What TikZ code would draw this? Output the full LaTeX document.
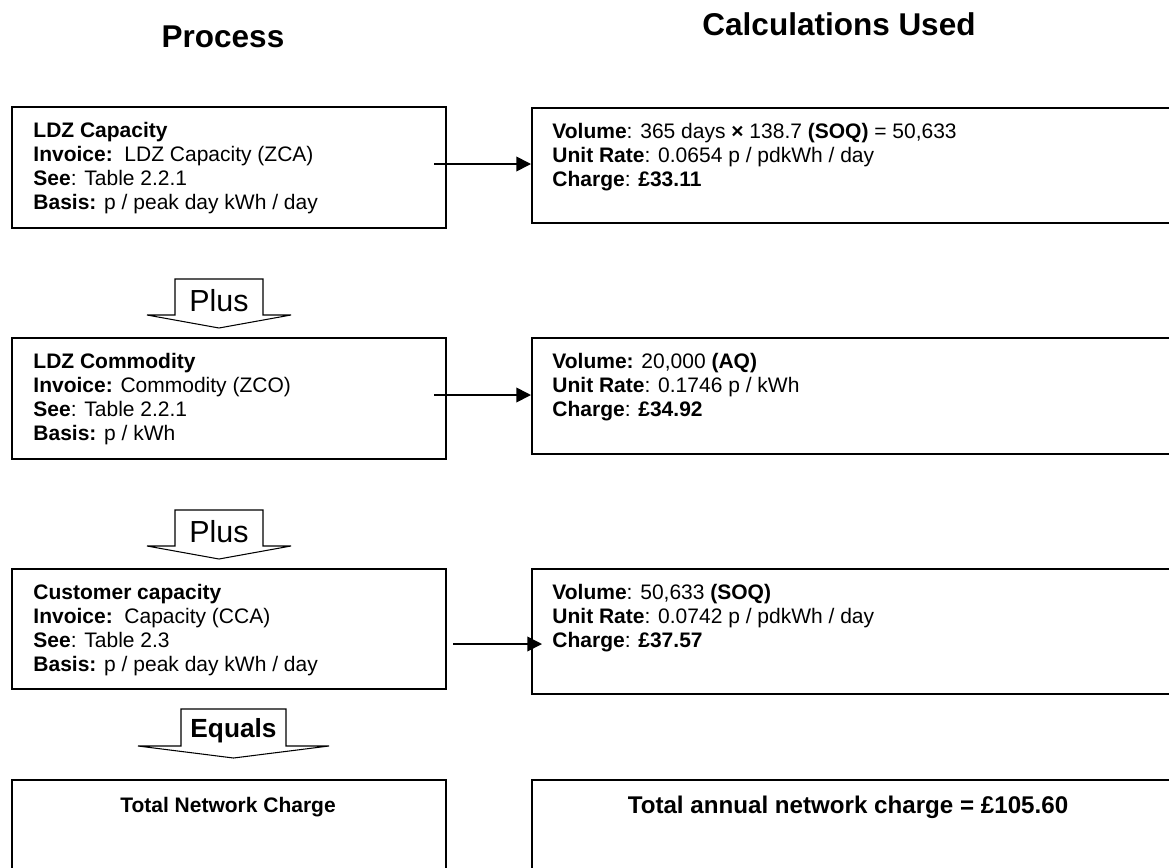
\documentclass[tikz,border=0pt]{standalone}
\usepackage{fontspec}
\setmainfont{Liberation Sans}
\usetikzlibrary{arrows.meta}
\newcommand\pxu{0.47619pt}
\begin{document}
\begin{tikzpicture}[x=0.47619pt,y=-0.47619pt,
  box/.style={draw=black, line width=0.8pt, fill=none, inner sep=0pt, anchor=north west},
  txt/.style={anchor=base west, inner sep=0pt, font=\fontsize{10}{12}\selectfont},
  title/.style={anchor=base, inner sep=0pt, font=\fontsize{15}{18}\selectfont\bfseries},
  conn/.style={line width=0.8pt, -{Triangle[length=7pt,width=7pt]}},
  blk/.style={draw=black, line width=0.5pt, line join=miter},
  blktxt/.style={anchor=base, inner sep=0pt, font=\fontsize{14.5}{17}\selectfont}]
\useasboundingbox (0,0) rectangle (1169,867);
\clip (0,0) rectangle (1169,867);

% titles
\node[title] (tproc) at (223,47) {Process};
\node[title] (tcalc) at (839,35) {Calculations Used};

% row 1
\node[box, minimum width=434*\pxu, minimum height=121*\pxu] (l1) at (11,106) {};
\node[box, minimum width=700*\pxu, minimum height=115*\pxu] (r1) at (531,107) {};
\node[txt] (l1a) at (33,137.5) {\textbf{LDZ Capacity}};
\node[txt] (l1b) at (33,161.5) {\textbf{Invoice:}\ \ LDZ Capacity (ZCA)};
\node[txt] (l1c) at (33,185.5) {\textbf{See}: Table 2.2.1};
\node[txt] (l1d) at (33,209.5) {\textbf{Basis:} p / peak day kWh / day};
\node[txt] (r1a) at (552,138.5) {\textbf{Volume}: 365 days \textbf{×} 138.7 \textbf{(SOQ)} = 50,633};
\node[txt] (r1b) at (552,162.5) {\textbf{Unit Rate}: 0.0654 p / pdkWh / day};
\node[txt] (r1c) at (552,186.5) {\textbf{Charge}: \textbf{£33.11}};
\coordinate (s1) at (434,164);
\draw[conn] (s1) -- (s1 -| r1.west);

% plus 1
\draw[blk] (175,279) -- (263,279) -- (263,315) -- (291,315) -- (219,328) -- (147,315) -- (175,315) -- cycle;
\node[blktxt] (p1) at (219,311) {Plus};

% row 2
\node[box, minimum width=434*\pxu, minimum height=121*\pxu] (l2) at (11,337) {};
\node[box, minimum width=700*\pxu, minimum height=116*\pxu] (r2) at (531,337) {};
\node[txt] (l2a) at (33,368.5) {\textbf{LDZ Commodity}};
\node[txt] (l2b) at (33,392.5) {\textbf{Invoice:} Commodity (ZCO)};
\node[txt] (l2c) at (33,416.5) {\textbf{See}: Table 2.2.1};
\node[txt] (l2d) at (33,440.5) {\textbf{Basis:} p / kWh};
\node[txt] (r2a) at (552,368.5) {\textbf{Volume:} 20,000 \textbf{(AQ)}};
\node[txt] (r2b) at (552,392.5) {\textbf{Unit Rate}: 0.1746 p / kWh};
\node[txt] (r2c) at (552,416.5) {\textbf{Charge}: \textbf{£34.92}};
\coordinate (s2) at (434,395);
\draw[conn] (s2) -- (s2 -| r2.west);

% plus 2
\draw[blk] (175,510) -- (263,510) -- (263,546) -- (291,546) -- (219,559) -- (147,546) -- (175,546) -- cycle;
\node[blktxt] (p2) at (219,542) {Plus};

% row 3
\node[box, minimum width=434*\pxu, minimum height=120*\pxu] (l3) at (11,568) {};
\node[box, minimum width=700*\pxu, minimum height=125*\pxu] (r3) at (531,568) {};
\node[txt] (l3a) at (33,599.5) {\textbf{Customer capacity}};
\node[txt] (l3b) at (33,623.5) {\textbf{Invoice:}\ \ Capacity (CCA)};
\node[txt] (l3c) at (33,647.5) {\textbf{See}: Table 2.3};
\node[txt] (l3d) at (33,671.5) {\textbf{Basis:} p / peak day kWh / day};
\node[txt] (r3a) at (552,599.5) {\textbf{Volume}: 50,633 \textbf{(SOQ)}};
\node[txt] (r3b) at (552,623.5) {\textbf{Unit Rate}: 0.0742 p / pdkWh / day};
\node[txt] (r3c) at (552,647.5) {\textbf{Charge}: \textbf{£37.57}};
\coordinate (s3) at (453,644);
\coordinate (e3) at (542,644);
\draw[conn] (s3) -- (e3);

% equals
\draw[blk] (181,709) -- (286,709) -- (286,746) -- (329,746) -- (233.5,758) -- (138,746) -- (181,746) -- cycle;
\node[blktxt, font=\fontsize{12.5}{15}\selectfont\bfseries] (eq) at (233.5,737.4) {Equals};

% totals
\node[box, minimum width=434*\pxu, minimum height=150*\pxu] (l4) at (11,779) {};
\node[box, minimum width=700*\pxu, minimum height=150*\pxu] (r4) at (531,779) {};
\node[anchor=base, inner sep=0pt, font=\fontsize{10}{12}\selectfont\bfseries] (l4t) at (228,812.5) {Total Network Charge};
\node[anchor=base, inner sep=0pt, font=\fontsize{11.5}{14}\selectfont\bfseries] (r4t) at (848,813.6) {Total annual network charge = £105.60};
\end{tikzpicture}
\end{document}
